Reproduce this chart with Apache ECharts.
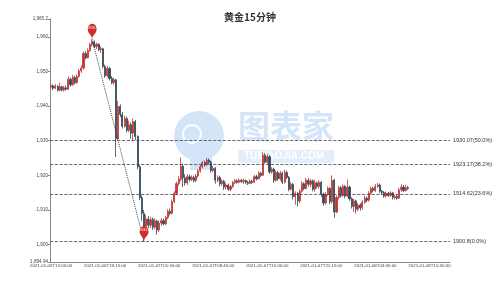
<!DOCTYPE html>
<html><head><meta charset="utf-8">
<script src="https://cdn.jsdelivr.net/npm/echarts@6/dist/echarts.min.js"></script>
<style>html,body{margin:0;padding:0;background:#fff}#c{width:500px;height:281px}</style>
</head><body><div id="c"></div>
<script>
var titleText = '黄金15分钟';
var tickLabels = ['2021-01-06T13:00:00','2021-01-06T19:15:00','2021-01-07T01:30:00','2021-01-07T08:45:00','2021-01-07T15:00:00','2021-01-07T21:15:00','2021-01-08T03:30:00','2021-01-08T10:30:00'];
var categoryCount = 185;
// OHLC as [open, close, low, high]
var candles = [
[1945.5,1945.9,1945.0,1946.6],[1945.9,1945.2,1944.6,1946.3],[1945.2,1945.8,1944.9,1946.4],[1945.8,1944.6,1944.2,1946.0],
[1944.6,1945.6,1944.3,1946.8],[1945.6,1944.7,1944.3,1945.9],[1944.7,1945.3,1944.2,1945.8],[1945.3,1944.9,1944.5,1945.9],
[1944.9,1947.8,1944.7,1948.6],[1947.8,1946.2,1945.6,1948.2],[1946.2,1948.3,1945.9,1949.0],[1948.3,1946.8,1946.3,1948.8],
[1946.8,1948.6,1946.5,1949.2],[1948.6,1950.2,1948.2,1950.8],[1950.2,1951.0,1949.6,1951.8],[1951.0,1955.2,1950.6,1955.8],
[1955.2,1954.0,1953.5,1955.9],[1954.0,1956.1,1953.8,1956.7],[1956.1,1957.8,1955.7,1958.3],[1957.8,1958.6,1957.2,1959.3],
[1958.6,1957.2,1956.8,1959.0],[1957.2,1957.9,1956.5,1958.4],[1957.9,1956.3,1955.9,1958.2],[1956.3,1956.6,1955.4,1957.3],
[1956.6,1951.5,1950.9,1956.9],[1951.5,1948.8,1948.2,1952.0],[1948.8,1950.9,1948.3,1951.6],[1950.9,1948.0,1947.4,1951.3],
[1948.0,1946.8,1946.3,1948.7],[1946.8,1947.6,1946.2,1948.2],[1947.6,1930.6,1925.3,1947.9],[1930.6,1939.9,1930.0,1941.5],
[1939.9,1937.6,1936.8,1940.5],[1937.6,1934.2,1933.5,1938.3],[1934.2,1936.4,1933.8,1937.3],[1936.4,1933.0,1932.4,1937.0],
[1933.0,1934.6,1932.5,1935.8],[1934.6,1932.2,1930.6,1935.3],[1932.2,1935.5,1929.8,1936.4],[1935.5,1931.2,1930.2,1936.0],
[1931.2,1922.5,1921.8,1931.6],[1922.5,1913.5,1912.8,1923.0],[1913.5,1909.0,1906.8,1914.2],[1909.0,1905.2,1900.8,1910.0],
[1905.2,1907.4,1903.8,1908.6],[1907.4,1905.6,1904.6,1908.2],[1905.6,1907.2,1904.8,1908.0],[1907.2,1905.0,1904.2,1907.8],
[1905.0,1906.8,1904.4,1907.6],[1906.8,1904.2,1902.8,1907.2],[1904.2,1906.2,1903.6,1906.9],[1906.2,1906.9,1905.4,1907.6],
[1906.9,1906.0,1905.5,1907.5],[1906.0,1907.8,1905.6,1908.3],[1907.8,1909.6,1907.3,1910.2],[1909.6,1909.0,1908.4,1910.4],
[1909.0,1912.4,1908.7,1913.0],[1912.4,1914.8,1911.9,1915.4],[1914.8,1917.6,1914.3,1918.2],[1917.6,1918.9,1917.0,1919.8],
[1918.9,1922.6,1918.4,1925.2],[1922.6,1919.3,1916.6,1923.4],[1919.3,1917.8,1917.0,1920.3],[1917.8,1919.6,1917.2,1920.3],
[1919.6,1918.8,1918.2,1920.2],[1918.8,1919.4,1918.3,1920.0],[1919.4,1918.5,1917.9,1919.9],[1918.5,1919.8,1918.0,1920.4],
[1919.8,1921.2,1919.4,1921.8],[1921.2,1922.5,1920.8,1923.0],[1922.5,1923.7,1922.0,1924.2],[1923.7,1923.0,1922.5,1924.3],
[1923.0,1924.4,1922.8,1925.0],[1924.4,1923.8,1923.2,1924.9],[1923.8,1921.4,1920.8,1924.2],[1921.4,1922.0,1920.9,1922.7],
[1922.0,1918.6,1917.6,1922.4],[1918.6,1919.4,1918.0,1920.0],[1919.4,1917.6,1916.8,1919.9],[1917.6,1918.3,1917.0,1918.9],
[1918.3,1916.6,1915.8,1918.7],[1916.6,1917.2,1915.9,1917.8],[1917.2,1916.0,1915.5,1917.6],[1916.0,1916.8,1915.4,1917.2],
[1916.8,1917.9,1916.4,1918.4],[1917.9,1918.4,1917.5,1919.0],[1918.4,1918.0,1917.6,1918.9],[1918.0,1918.6,1917.7,1919.1],
[1918.6,1918.2,1917.8,1919.0],[1918.2,1918.5,1917.5,1919.0],[1918.5,1918.0,1917.4,1918.8],[1918.0,1917.7,1917.2,1918.4],
[1917.7,1918.3,1917.4,1918.8],[1918.3,1918.0,1917.5,1918.7],[1918.0,1919.6,1917.8,1920.1],[1919.6,1919.0,1918.5,1920.2],
[1919.0,1920.6,1918.8,1921.2],[1920.6,1920.0,1919.5,1921.0],[1920.0,1925.8,1919.8,1926.7],[1925.8,1923.8,1923.4,1926.4],
[1923.8,1925.4,1923.4,1926.2],[1925.4,1921.0,1920.4,1925.8],[1921.0,1921.8,1920.5,1922.3],[1921.8,1918.6,1917.8,1922.2],
[1918.6,1920.8,1918.2,1921.4],[1920.8,1919.0,1918.4,1921.2],[1919.0,1920.6,1918.5,1921.3],[1920.6,1918.0,1917.5,1921.0],
[1918.0,1920.8,1917.6,1921.6],[1920.8,1919.4,1918.9,1921.4],[1919.4,1916.0,1915.4,1919.8],[1916.0,1917.4,1915.6,1918.0],
[1917.4,1913.8,1913.0,1917.8],[1913.8,1914.8,1911.5,1915.4],[1914.8,1912.6,1911.0,1915.2],[1912.6,1915.4,1912.0,1916.0],
[1915.4,1917.6,1915.0,1918.3],[1917.6,1916.2,1915.7,1918.0],[1916.2,1918.6,1915.9,1919.3],[1918.6,1917.4,1916.8,1919.2],
[1917.4,1918.4,1916.6,1918.9],[1918.4,1916.0,1915.4,1918.8],[1916.0,1917.8,1915.2,1918.7],[1917.8,1916.8,1916.2,1918.2],
[1916.8,1918.0,1916.2,1918.6],[1918.0,1914.6,1913.8,1918.3],[1914.6,1912.0,1911.2,1915.0],[1912.0,1914.4,1911.5,1915.1],
[1914.4,1916.2,1914.0,1916.8],[1916.2,1912.4,1911.6,1916.6],[1912.4,1918.6,1911.8,1920.0],[1918.6,1909.4,1907.7,1919.0],
[1909.4,1913.6,1909.0,1914.2],[1913.6,1916.4,1913.0,1917.0],[1916.4,1914.2,1913.6,1916.9],[1914.2,1916.8,1913.8,1917.4],
[1916.8,1914.0,1913.4,1917.2],[1914.0,1916.6,1913.6,1918.8],[1916.6,1913.2,1912.6,1917.0],[1913.2,1911.0,1910.4,1913.6],
[1911.0,1912.6,1909.4,1913.2],[1912.6,1910.2,1909.0,1913.0],[1910.2,1911.4,1909.6,1912.0],[1911.4,1910.6,1909.8,1911.9],
[1910.6,1912.2,1910.0,1912.8],[1912.2,1913.4,1911.8,1914.0],[1913.4,1912.8,1912.2,1913.9],[1912.8,1914.8,1912.4,1915.4],
[1914.8,1916.2,1914.4,1916.8],[1916.2,1915.6,1915.1,1916.7],[1915.6,1916.8,1915.2,1917.5],[1916.8,1917.2,1916.4,1917.8],
[1917.2,1915.4,1914.9,1917.6],[1915.4,1915.0,1914.4,1915.8],[1915.0,1914.0,1913.5,1915.4],[1914.0,1914.8,1913.6,1915.3],
[1914.8,1914.2,1913.7,1915.2],[1914.2,1914.9,1913.8,1915.4],[1914.9,1913.6,1913.0,1915.2],[1913.6,1913.9,1913.0,1914.4],
[1913.9,1913.4,1912.9,1914.3],[1913.4,1915.8,1913.2,1916.4],[1915.8,1916.6,1915.2,1917.4],[1916.6,1915.6,1915.2,1917.2],
[1915.6,1916.4,1915.3,1917.3],[1916.4,1916.2,1915.8,1916.9]
];
var highPoint = {index: 19, value: 1959.3, label: '1959.3'};
var lowPoint = {index: 43, value: 1900.8, label: '1900.8'};
var fibLevels = [1930.07, 1923.17, 1914.62, 1900.8];
var fibLabels = ['1930.07(50.0%)', '1923.17(38.2%)', '1914.62(23.6%)', '1900.8(0.0%)'];
var yMin = 1894.94, yMax = 1965.2;

// build category strings (15-minute bars), tick positions use tickLabels
function pad(n){return (n<10?'0':'')+n;}
var categories = [];
var t = new Date(Date.UTC(2021,0,6,13,0,0));
for (var i=0;i<categoryCount;i++){
  var s = t.getUTCFullYear()+'-'+pad(t.getUTCMonth()+1)+'-'+pad(t.getUTCDate())+'T'+pad(t.getUTCHours())+':'+pad(t.getUTCMinutes())+':00';
  if (i%25===0 && tickLabels[i/25]) s = tickLabels[i/25];
  categories.push(s);
  t = new Date(t.getTime()+15*60000);
  if (t.getUTCHours()===6 && t.getUTCMinutes()===0) t = new Date(t.getTime()+60*60000);
}

var fibLines = fibLevels.map(function(v,k){
  return {yAxis: v, label: {formatter: fibLabels[k]}};
});
var diag = [
  {coord:[categories[highPoint.index], highPoint.value], lineStyle:{type:'dotted', color:'#444', width:1}, label:{show:false}},
  {coord:[categories[lowPoint.index], lowPoint.value]}
];

var wm = '#d5e5f9';
var chart = echarts.init(document.getElementById('c'), null, {renderer:'canvas'});
chart.setOption({
  animation: false,
  backgroundColor: '#fff',
  title: {text: titleText, left: 'center', top: 7, textStyle: {fontSize: 10, fontWeight: 'bold', color: '#333', fontFamily: 'Noto Sans CJK SC'}},
  grid: {left: 50, right: 50, top: 19, bottom: 19},
  graphic: [
    {type:'circle', z:-10, shape:{cx:199, cy:136, r:25}, style:{fill:wm}},
    {type:'rect', z:-10, shape:{x:190, y:150, width:22, height:20}, style:{fill:wm}},
    {type:'circle', z:-10, shape:{cx:192, cy:134, r:9}, style:{fill:'none', stroke:'#ffffff', lineWidth:2}},
    {type:'text', z:-10, left:238, top:110, style:{text:'图表家', fontSize:32, fontWeight:'bold', fill:wm, fontFamily:'Noto Sans CJK SC'}},
    {type:'rect', z:-10, shape:{x:238, y:150, width:96, height:13, r:2}, style:{fill:'#e3eefb'}},
    {type:'text', z:-10, left:244, top:151, style:{text:'TUBIAOJIA.COM', fontSize:10, fontWeight:'bold', fill:'#ffffff', fontFamily:'Liberation Sans'}}
  ],
  xAxis: {
    type: 'category', data: categories, boundaryGap: true,
    axisLine: {lineStyle: {color: '#888', width: 1}},
    axisTick: {interval: 24, alignWithLabel: true, length: 2, lineStyle:{color:'#888'}},
    axisLabel: {interval: 24, fontSize: 4.4, color: '#444', margin: 2, fontFamily: 'Liberation Sans'},
    splitLine: {show: false}
  },
  yAxis: {
    type: 'value', min: yMin, max: yMax, scale: true,
    axisLine: {show: true, lineStyle: {color: '#888', width: 1}},
    axisTick: {show: true, length: 2, lineStyle:{color:'#888'}},
    axisLabel: {fontSize: 4.6, color: '#444', margin: 2, fontFamily: 'Liberation Sans'},
    splitLine: {show: false}
  },
  series: [{
    type: 'candlestick',
    data: candles,
    barWidth: 1.6,
    itemStyle: {color: '#c23531', color0: '#314656', borderColor: '#c23531', borderColor0: '#314656', borderWidth: 0.8},
    markPoint: {
      symbol: 'pin', symbolSize: [15, 18],
      itemStyle: {color: '#d22f2a'},
      label: {fontSize: 4, color: '#fff', fontFamily: 'Liberation Sans', offset:[0,-2]},
      data: [
        {coord: [categories[highPoint.index], highPoint.value], value: highPoint.label},
        {coord: [categories[lowPoint.index], lowPoint.value], value: lowPoint.label}
      ]
    },
    markLine: {
      symbol: ['none','none'], silent: true,
      lineStyle: {type: 'dashed', color: '#444', width: 0.8},
      label: {position: 'end', fontSize: 5.5, color: '#333', distance: 3, fontFamily: 'Liberation Sans'},
      data: fibLines.concat([diag])
    }
  }]
});
</script></body></html>
